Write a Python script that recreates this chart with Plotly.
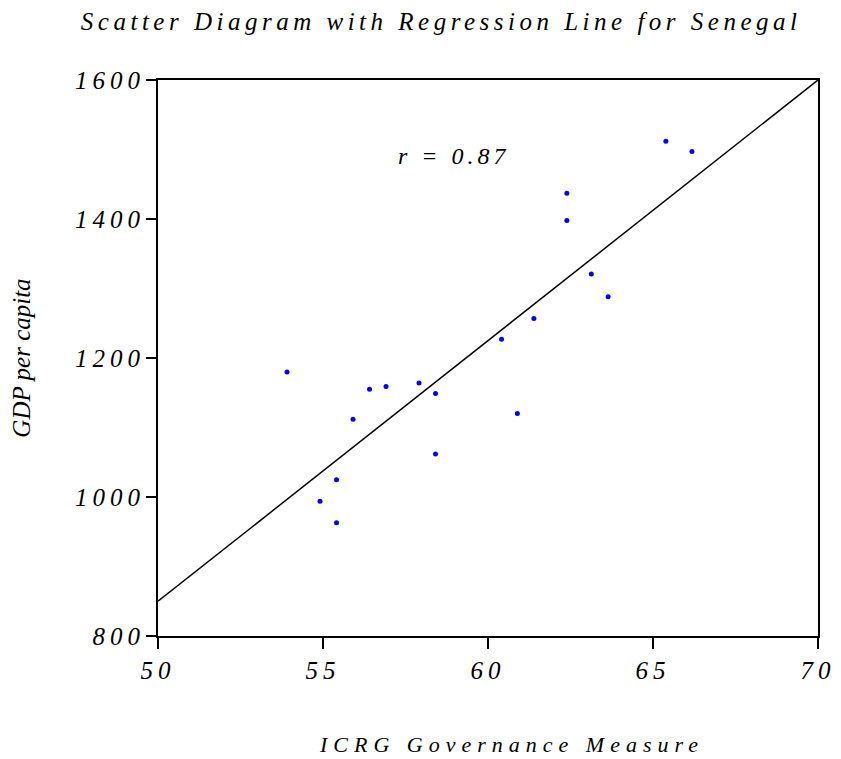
import plotly.graph_objects as go

# ICRG governance measure (x) and GDP per capita (y) for Senegal
icrg = [53.91, 54.91, 55.41, 55.41, 55.91, 56.41, 56.91, 57.91, 58.41, 58.41,
        60.41, 60.89, 61.39, 62.39, 62.39, 63.13, 63.64, 65.39, 66.18]
gdp = [1180, 994, 1025, 963, 1112, 1155, 1159, 1164, 1149, 1062,
       1227, 1120, 1257, 1437, 1398, 1321, 1288, 1512, 1497]

# Regression line parameters
intercept = -1025.0
slope = 37.5
line_x = [50, 70]
line_y = [intercept + slope * v for v in line_x]

x_ticks = [50, 55, 60, 65, 70]
y_ticks = [800, 1000, 1200, 1400, 1600]

font_family = "Liberation Serif, Times New Roman, serif"


def spaced(text, px):
    return f'<span style="letter-spacing:{px}px"><i>{text}</i></span>'


fig = go.Figure()
fig.add_trace(go.Scatter(x=line_x, y=line_y, mode="lines",
                         line=dict(color="black", width=1.5),
                         hoverinfo="skip", showlegend=False))
fig.add_trace(go.Scatter(x=icrg, y=gdp, mode="markers",
                         marker=dict(color="#0000ff", size=5),
                         showlegend=False))

fig.add_annotation(x=57.2, y=1490, xref="x", yref="y", text=spaced("r = 0.87", 4),
                   showarrow=False, xanchor="left", yanchor="middle",
                   font=dict(family=font_family, size=24, color="black"))

# x-axis title placed as a paper annotation (slightly right of centre, as in the original)
fig.add_annotation(x=0.535, y=-0.195, xref="paper", yref="paper",
                   text=spaced("ICRG Governance Measure", 6),
                   showarrow=False, xanchor="center", yanchor="middle",
                   font=dict(family=font_family, size=22, color="black"))

fig.update_layout(
    width=833, height=751,
    margin=dict(l=150, r=23, t=72, b=123),
    paper_bgcolor="white", plot_bgcolor="white",
    title=dict(text=spaced("Scatter Diagram with Regression Line for Senegal", 4.5),
               x=0.52, xanchor="center", y=0.983, yanchor="middle",
               font=dict(family=font_family, size=25, color="black")),
    xaxis=dict(range=[50, 70], tickvals=x_ticks,
               ticktext=[spaced(v, 5) for v in x_ticks],
               showgrid=False, zeroline=False, automargin=False,
               showline=True, linecolor="black", linewidth=2, mirror=True,
               ticks="outside", ticklen=11, tickwidth=1.5, tickcolor="black",
               tickfont=dict(family=font_family, size=25, color="black")),
    yaxis=dict(range=[800, 1600], tickvals=y_ticks,
               ticktext=[spaced(v, 5) for v in y_ticks],
               showgrid=False, zeroline=False, automargin=False,
               showline=True, linecolor="black", linewidth=2, mirror=True,
               ticks="outside", ticklen=10, tickwidth=1.5, tickcolor="black",
               ticklabelstandoff=-4,
               tickfont=dict(family=font_family, size=25, color="black"),
               title=dict(text="<i>GDP per capita</i>",
                          font=dict(family=font_family, size=25, color="black"),
                          standoff=40)),
)

fig.write_html("out.html")
